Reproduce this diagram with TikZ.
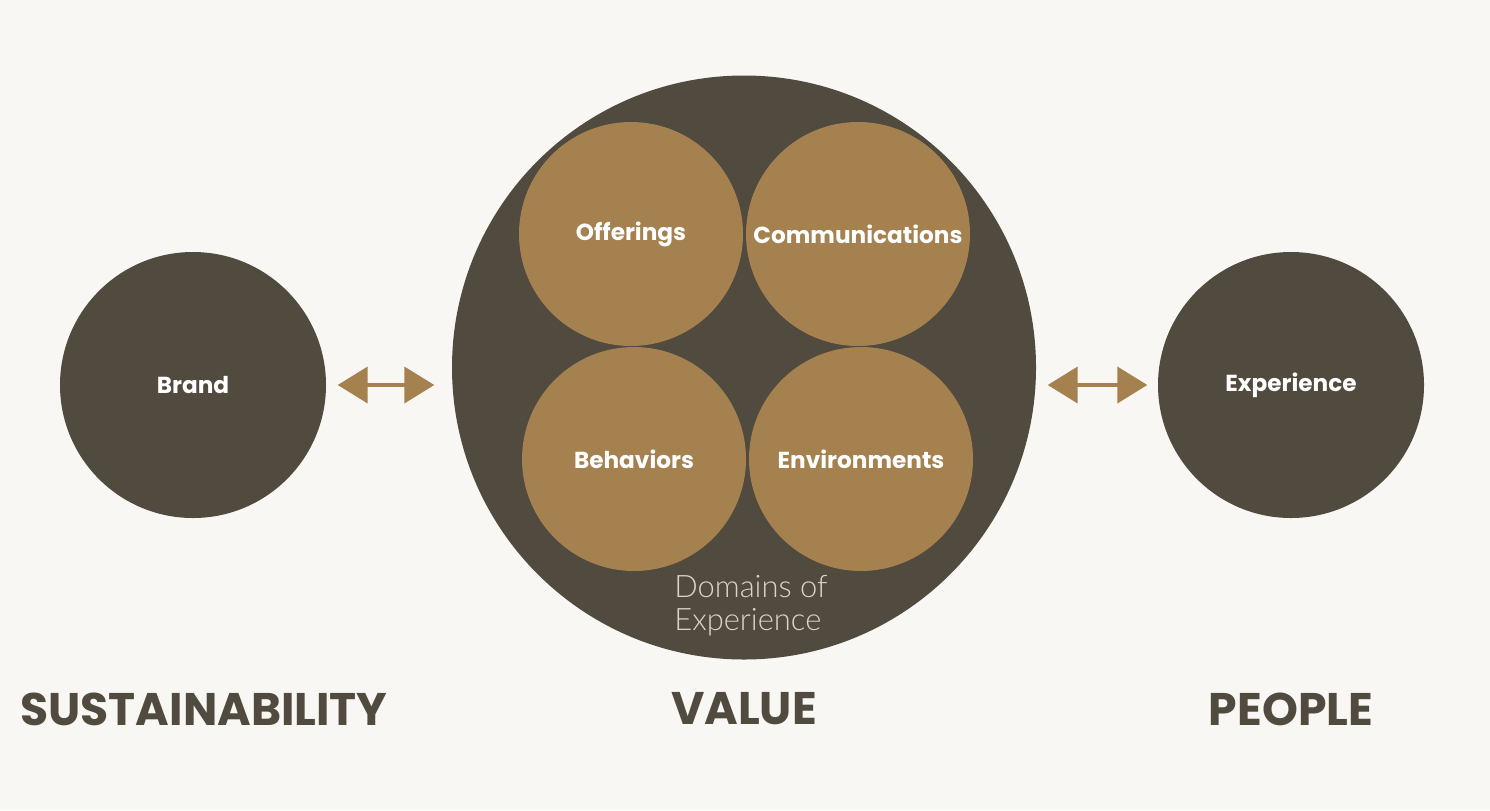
\documentclass[tikz,border=0pt]{standalone}
\usepackage{fontspec}
\setmainfont{Poppins}
\newfontfamily\thinfont{Lato Light}
\usepackage{tikz}
\usetikzlibrary{arrows.meta,calc}
\definecolor{paper}{HTML}{F8F7F3}
\definecolor{umber}{HTML}{514A3E}
\definecolor{bronze}{HTML}{A4814F}
\definecolor{mist}{HTML}{D9D5CC}
\tikzstyle{outer}=[circle, fill=umber, inner sep=0pt,% dark discs
text=white, font=\bfseries\fontsize{6.6}{8}\selectfont]
\tikzstyle{domaindisc}=[circle, fill=bronze, inner sep=0pt, minimum size=2.24cm,% the four domains
text=white, font=\bfseries\fontsize{6.6}{8}\selectfont]
\tikzstyle{pair}=[{Triangle[length=3mm,width=3.6mm]}-{Triangle[length=3mm,width=3.6mm]}, draw=bronze, line width=0.04cm]
\tikzstyle{caption}=[text=umber, font=\bfseries\fontsize{13}{15}\selectfont]

\begin{document}
\begin{tikzpicture}
\fill[paper] (0,0) rectangle (14.9,8.1);
\node[outer, minimum size=2.66cm] (brand) at (1.93,4.25) {Brand};
\node[outer, minimum size=5.84cm] (domains) at (7.44,4.425) {};
\node[outer, minimum size=2.66cm] (experience) at (12.91,4.25) {Experience};
\node[domaindisc] (offer) at (6.31,5.76) {Offerings};
\node[domaindisc] (comm) at (8.58,5.76) {Communications};
\node[domaindisc] (behav) at (6.34,3.51) {Behaviors};
\node[domaindisc] (envir) at (8.61,3.51) {Environments};
\node[text=mist, align=left, font=\thinfont\fontsize{8.8}{9.4}\selectfont] (dlabel) at (7.51,2.04) {Domains of\\Experience};
\draw[pair, shorten <=1.1mm, shorten >=1.7mm] (brand.east) -- (brand.east -| domains.west);
\draw[pair, shorten <=1.1mm, shorten >=1mm] (experience.west -| domains.east) -- (experience.west);
\node[caption] (sust) at (2.04,1.01) {SUSTAINABILITY};
\node[caption] (value) at (7.44,1.01) {VALUE};
\node[caption] (people) at (12.91,1.01) {PEOPLE};
\end{tikzpicture}
\end{document}
